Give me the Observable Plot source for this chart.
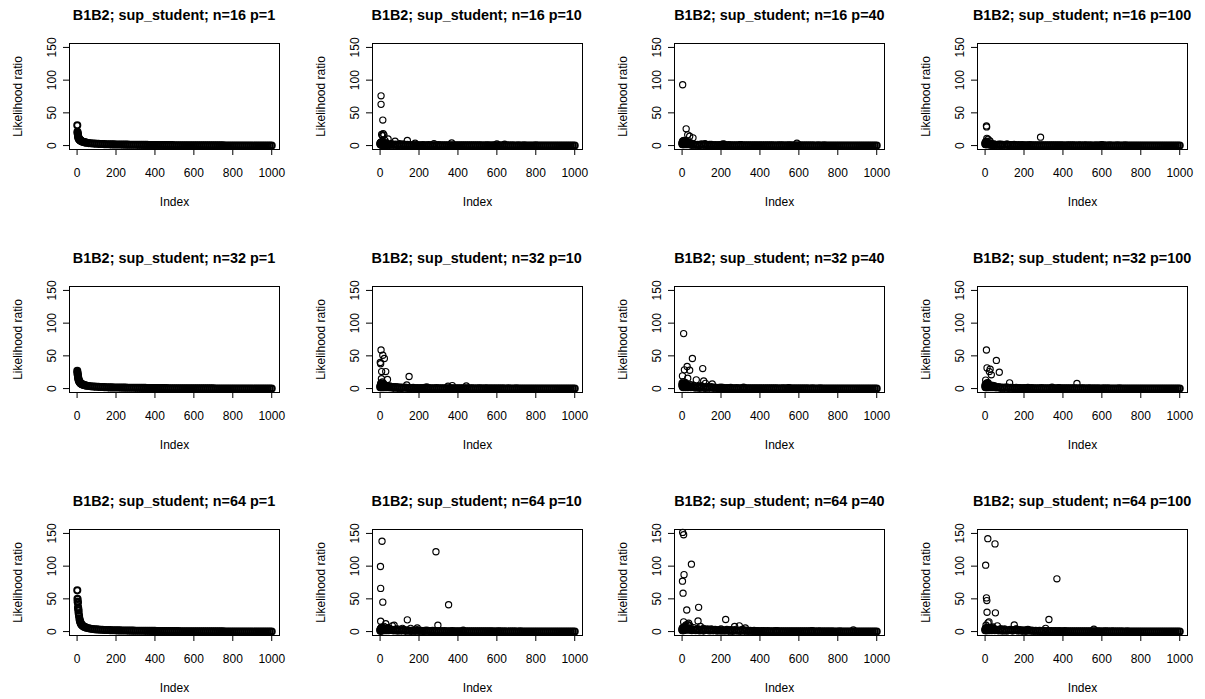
<!DOCTYPE html>
<html>
<head>
<meta charset="utf-8">
<script src="https://cdn.jsdelivr.net/npm/d3@7"></script>
<script src="https://cdn.jsdelivr.net/npm/@observablehq/plot@0.6"></script>
<style>
  html, body { margin: 0; padding: 0; background: #fff; }
  body { width: 1205px; height: 699px; overflow: hidden; position: relative; font-family: "Liberation Sans", Arial, Helvetica, sans-serif; }
  .cell { position: absolute; width: 303px; height: 243px; }
  .title { position: absolute; top: 0; left: 174px; transform: translateX(-50%); height: 30px; line-height: 30px;
           white-space: nowrap; font-weight: bold; font-size: 14.4px; color: #000; }
  .cell svg { position: absolute; top: 30px; left: 0; }
</style>
</head>
<body>
<script>
// ---- chart definitions ----
const nValues = [16, 32, 64];
const pValues = [1, 10, 40, 100];
const titlePrefix = "B1B2; sup_student;";
const xLabel = "Index";
const yLabel = "Likelihood ratio";
const xTicks = [0, 200, 400, 600, 800, 1000];
const yTicks = [0, 50, 100, 150];

// index positions of the dense band of points (read along the x axis)
const bandIndex = [1,2,3,4,5,6,7,8,10,12,14,16,18,20,23,26,30,35,40,45,50,
  60,70,80,90,100,110,120,130,140,150,
  160,170,180,190,200,210,220,230,240,250,
  260,270,280,290,300,310,320,330,340,350,
  360,370,380,390,400,410,420,430,440,450,
  460,470,480,490,500,510,520,530,540,550,
  560,570,580,590,600,610,620,630,640,650,
  660,670,680,690,700,710,720,730,740,750,
  760,770,780,790,800,810,820,830,840,850,
  860,870,880,890,900,910,920,930,940,950,
  960,970,980,990,1000];

// band values (likelihood ratio) at bandIndex, per panel
const band_n16_p1 = [31,21,19,17,15,13.5,12,11,10,9.2,8.6,8,7.6,7.2,6.7,6.3,5.8,5.3,4.9,4.6,4.3,
  3.8,3.5,3.2,3.0,2.8,2.6,2.5,2.3,2.2,2.1,
  2.0,1.9,1.8,1.8,1.7,1.6,1.6,1.5,1.5,1.4,
  1.4,1.3,1.3,1.2,1.2,1.1,1.1,1.1,1.0,1.0,
  1.0,0.9,0.9,0.9,0.9,0.8,0.8,0.8,0.8,0.7,
  0.7,0.7,0.7,0.7,0.6,0.6,0.6,0.6,0.6,0.5,
  0.5,0.5,0.5,0.5,0.5,0.4,0.4,0.4,0.4,0.4,
  0.4,0.4,0.3,0.3,0.3,0.3,0.3,0.3,0.3,0.3,
  0.2,0.2,0.2,0.2,0.2,0.2,0.2,0.2,0.2,0.2,
  0.1,0.1,0.1,0.1,0.1,0.1,0.1,0.1,0.1,0.1,
  0.1,0.1,0.0,0.0,0.0];
const band_n16_p10 = [3,2,4,1.5,3,2,5,1,2,3,1,4,2,1,3,2,1,2,1,2,1,
  1.2,0.8,1.5,0.6,0.9,1.1,0.5,0.7,1.0,0.6,
  0.4,0.8,0.5,0.9,0.3,0.6,0.7,0.4,0.5,0.8,
  0.5,0.3,0.6,0.4,0.7,0.3,0.5,0.4,0.6,0.3,
  0.4,0.5,0.3,0.6,0.4,0.3,0.5,0.4,0.3,0.5,
  0.3,0.4,0.3,0.5,0.3,0.4,0.3,0.2,0.4,0.3,
  0.3,0.2,0.4,0.3,0.2,0.3,0.2,0.4,0.3,0.2,
  0.3,0.2,0.3,0.2,0.2,0.3,0.2,0.2,0.3,0.2,
  0.2,0.2,0.1,0.2,0.3,0.2,0.1,0.2,0.2,0.1,
  0.2,0.1,0.2,0.1,0.2,0.1,0.1,0.2,0.1,0.1,
  0.1,0.2,0.1,0.1,0.1];
const band_n16_p40 = [4,2,3,6,2,5,3,7,2,4,3,5,2,6,3,2,4,2,3,2,1,
  1.5,0.8,1.2,0.6,2.0,0.9,1.1,0.7,0.5,1.3,
  0.6,0.9,0.4,0.7,0.5,1.8,0.6,0.4,0.8,0.5,
  0.3,0.6,0.5,0.4,0.7,0.3,0.5,0.6,0.4,0.3,
  0.5,0.4,0.3,0.6,0.4,0.3,0.5,0.3,0.4,0.3,
  0.4,0.3,0.2,0.4,0.3,0.5,0.3,0.2,0.3,0.4,
  0.3,0.2,0.3,0.2,0.4,0.3,0.2,0.3,0.2,0.3,
  0.2,0.3,0.2,0.2,0.3,0.2,0.2,0.3,0.2,0.2,
  0.2,0.1,0.2,0.2,0.1,0.2,0.2,0.1,0.2,0.1,
  0.1,0.2,0.1,0.1,0.2,0.1,0.1,0.1,0.2,0.1,
  0.1,0.1,0.2,0.1,0.1];
const band_n16_p100 = [3,2,5,4,2,3,6,2,4,3,2,3,2,2,3,2,1,2,1,2,1,
  0.9,1.4,0.6,1.1,0.8,1.6,0.5,0.9,0.7,1.0,
  0.5,0.7,0.4,0.8,0.6,0.3,0.5,0.7,0.4,0.6,
  0.4,0.5,0.3,0.6,0.4,0.5,0.3,0.4,0.5,0.3,
  0.4,0.3,0.5,0.3,0.4,0.2,0.4,0.3,0.5,0.3,
  0.3,0.2,0.4,0.3,0.2,0.3,0.4,0.2,0.3,0.2,
  0.2,0.3,0.2,0.4,0.2,0.3,0.2,0.2,0.3,0.2,
  0.2,0.2,0.3,0.2,0.1,0.2,0.3,0.2,0.2,0.1,
  0.2,0.1,0.2,0.1,0.2,0.2,0.1,0.2,0.1,0.2,
  0.1,0.1,0.2,0.1,0.1,0.2,0.1,0.1,0.1,0.1,
  0.1,0.1,0.1,0.2,0.1];
const band_n32_p1 = [27,24,22,20,18,16,14.5,13,11.5,10.5,9.5,8.8,8.2,7.7,7.1,6.6,6,5.5,5,4.7,4.4,
  3.9,3.5,3.2,3.0,2.8,2.6,2.4,2.3,2.2,2.0,
  1.9,1.8,1.8,1.7,1.6,1.6,1.5,1.5,1.4,1.4,
  1.3,1.3,1.2,1.2,1.1,1.1,1.1,1.0,1.0,1.0,
  0.9,0.9,0.9,0.8,0.8,0.8,0.8,0.7,0.7,0.7,
  0.7,0.6,0.6,0.6,0.6,0.6,0.5,0.5,0.5,0.5,
  0.5,0.4,0.4,0.4,0.4,0.4,0.4,0.3,0.3,0.3,
  0.3,0.3,0.3,0.3,0.3,0.2,0.2,0.2,0.2,0.2,
  0.2,0.2,0.2,0.2,0.2,0.1,0.1,0.1,0.1,0.1,
  0.1,0.1,0.1,0.1,0.1,0.1,0.1,0.1,0.1,0.0,
  0.0,0.0,0.0,0.0,0.0];
const band_n32_p10 = [2,4,3,6,2,8,3,5,4,2,6,3,2,5,3,2,4,2,3,2,2,
  1.8,1.1,2.2,0.9,1.4,0.7,1.2,1.6,0.8,1.0,
  0.7,1.3,0.6,0.9,0.5,0.8,0.6,1.1,0.5,0.7,
  0.5,0.6,0.4,0.8,0.5,0.4,0.6,0.3,0.5,0.4,
  0.6,0.4,0.3,0.5,0.4,0.3,0.5,0.4,0.3,0.4,
  0.3,0.4,0.3,0.2,0.4,0.3,0.3,0.2,0.4,0.3,
  0.2,0.3,0.2,0.3,0.2,0.4,0.2,0.3,0.2,0.2,
  0.3,0.2,0.2,0.1,0.3,0.2,0.2,0.2,0.1,0.2,
  0.2,0.1,0.2,0.2,0.1,0.2,0.1,0.2,0.1,0.1,
  0.1,0.2,0.1,0.1,0.1,0.2,0.1,0.1,0.1,0.1,
  0.1,0.1,0.1,0.1,0.2];
const band_n32_p40 = [5,8,3,6,4,2,7,3,5,4,3,6,2,4,5,3,2,4,3,2,3,
  2.1,1.3,2.6,1.0,3.5,1.2,0.9,1.7,1.1,2.4,
  0.8,1.4,0.7,1.0,0.6,1.2,0.5,0.9,0.7,1.1,
  0.6,0.5,0.8,0.4,0.6,0.5,0.7,0.4,0.5,0.6,
  0.4,0.5,0.3,0.6,0.4,0.3,0.5,0.4,0.3,0.5,
  0.3,0.4,0.3,0.5,0.2,0.4,0.3,0.3,0.2,0.4,
  0.3,0.2,0.3,0.2,0.4,0.2,0.3,0.2,0.3,0.2,
  0.2,0.3,0.2,0.2,0.1,0.3,0.2,0.2,0.2,0.1,
  0.2,0.2,0.1,0.2,0.1,0.2,0.2,0.1,0.1,0.2,
  0.1,0.1,0.2,0.1,0.1,0.1,0.2,0.1,0.1,0.1,
  0.1,0.1,0.1,0.1,0.1];
const band_n32_p100 = [4,2,6,3,5,2,4,3,8,2,5,3,4,2,3,5,2,3,2,3,2,
  1.6,2.3,1.0,1.4,0.8,1.9,0.7,1.2,1.0,0.6,
  1.1,0.7,0.9,0.5,0.8,0.6,1.0,0.4,0.7,0.5,
  0.6,0.4,0.5,0.7,0.3,0.5,0.4,0.6,0.3,0.5,
  0.4,0.3,0.5,0.4,0.3,0.4,0.3,0.5,0.3,0.4,
  0.3,0.4,0.2,0.3,0.4,0.3,0.2,0.3,0.3,0.2,
  0.3,0.2,0.3,0.2,0.2,0.3,0.2,0.3,0.2,0.2,
  0.2,0.1,0.2,0.3,0.2,0.1,0.2,0.2,0.1,0.2,
  0.1,0.2,0.2,0.1,0.2,0.1,0.1,0.2,0.1,0.1,
  0.2,0.1,0.1,0.1,0.2,0.1,0.1,0.1,0.1,0.1,
  0.1,0.1,0.1,0.1,0.1];
const band_n64_p1 = [63,50,46,44,37,35,32,28,24,20,17,15,13.5,12,10.5,9.5,8.5,7.5,6.8,6.2,5.7,
  5.0,4.4,4.0,3.6,3.3,3.1,2.9,2.7,2.5,2.4,
  2.3,2.2,2.1,2.0,1.9,1.8,1.8,1.7,1.6,1.6,
  1.5,1.5,1.4,1.4,1.3,1.3,1.2,1.2,1.2,1.1,
  1.1,1.1,1.0,1.0,1.0,0.9,0.9,0.9,0.9,0.8,
  0.8,0.8,0.8,0.7,0.7,0.7,0.7,0.6,0.6,0.6,
  0.6,0.6,0.5,0.5,0.5,0.5,0.5,0.4,0.4,0.4,
  0.4,0.4,0.4,0.3,0.3,0.3,0.3,0.3,0.3,0.3,
  0.2,0.2,0.2,0.2,0.2,0.2,0.2,0.2,0.1,0.1,
  0.1,0.1,0.1,0.1,0.1,0.1,0.1,0.1,0.1,0.1,
  0.0,0.0,0.0,0.0,0.0];
const band_n64_p10 = [2,3,1,4,2,5,3,2,6,2,3,4,2,3,5,2,3,2,4,2,3,
  2.4,1.6,3.1,1.2,2.0,1.5,2.7,1.1,1.8,1.3,
  1.0,1.6,0.9,2.2,0.8,1.2,0.7,1.0,1.4,0.8,
  0.7,1.1,0.6,0.9,0.5,0.8,0.6,0.7,0.5,0.6,
  0.5,0.7,0.4,0.6,0.5,0.4,0.6,0.4,0.5,0.4,
  0.4,0.3,0.5,0.4,0.3,0.4,0.3,0.5,0.3,0.3,
  0.3,0.4,0.3,0.2,0.4,0.3,0.3,0.2,0.3,0.2,
  0.2,0.3,0.2,0.3,0.2,0.2,0.3,0.2,0.2,0.2,
  0.2,0.1,0.2,0.2,0.1,0.2,0.1,0.2,0.1,0.2,
  0.1,0.2,0.1,0.1,0.2,0.1,0.1,0.1,0.1,0.1,
  0.1,0.1,0.1,0.1,0.1];
const band_n64_p40 = [3,2,5,2,4,3,6,2,5,3,4,6,3,5,4,3,5,3,4,3,2,
  3.2,2.1,4.0,1.8,2.9,1.5,2.4,3.3,1.6,2.2,
  1.9,2.8,1.4,2.5,1.2,2.0,1.3,2.6,1.1,1.7,
  1.0,2.3,1.2,1.6,0.9,2.8,1.1,1.4,0.8,1.2,
  0.8,1.0,0.7,0.9,0.6,0.8,0.7,0.6,0.8,0.5,
  0.6,0.5,0.7,0.4,0.6,0.5,0.4,0.6,0.4,0.5,
  0.4,0.5,0.3,0.4,0.5,0.3,0.4,0.3,0.4,0.3,
  0.3,0.4,0.3,0.2,0.3,0.3,0.2,0.3,0.2,0.3,
  0.2,0.3,0.2,0.2,0.2,0.3,0.2,0.2,0.2,0.1,
  0.2,0.1,0.2,0.2,0.1,0.2,0.1,0.1,0.2,0.1,
  0.1,0.1,0.2,0.1,0.1];
const band_n64_p100 = [2,4,3,2,5,3,2,4,3,6,2,4,5,3,2,4,3,2,5,3,2,
  2.8,1.7,3.4,1.4,2.3,1.2,2.0,2.9,1.5,2.2,
  3.1,1.4,2.4,1.1,1.8,1.0,2.6,1.2,1.5,0.9,
  1.3,0.8,1.1,0.7,1.0,0.6,0.9,0.7,0.8,0.6,
  0.7,0.5,0.8,0.6,0.5,0.7,0.4,0.6,0.5,0.4,
  0.5,0.4,0.6,0.3,0.5,0.4,0.3,0.5,0.4,0.3,
  0.4,0.3,0.4,0.3,0.2,0.4,0.3,0.3,0.2,0.3,
  0.3,0.2,0.3,0.2,0.3,0.2,0.2,0.3,0.2,0.2,
  0.2,0.2,0.1,0.2,0.2,0.1,0.2,0.2,0.1,0.2,
  0.1,0.2,0.1,0.1,0.1,0.2,0.1,0.1,0.1,0.1,
  0.1,0.1,0.1,0.1,0.1];

// scattered points standing above the band: [index, likelihood ratio]
const out_n16_p1 = [[2,20],[3,18]];
const out_n16_p10 = [[5,76],[5,63],[14,39],[8,17],[16,18],[20,16],[12,15],[3,5],[10,6],[25,8],[30,5],[41,10],[77,6.7],[140,7.7],[180,3.6],[277,3],[368,4],[600,2.5],[640,2],[60,3],[100,3],[120,2.5]];
const out_n16_p40 = [[3,93],[21,25.6],[29,16.4],[39,14.3],[56,11.8],[5,6],[10,8],[15,5],[18,7],[25,6],[33,4],[45,4],[118,3],[217,2],[590,3.6],[140,1.8],[300,1.5]];
const out_n16_p100 = [[7,30],[8,28.5],[9,11],[15,9.7],[25,7],[12,5],[4,4],[30,3],[80,2],[115,2],[285,12.8],[600,1.2]];
const out_n32_p1 = [[2,26],[3,23]];
const out_n32_p10 = [[5,59],[1,40],[3,38],[14,51],[22,46],[8,26],[29,26],[38,14],[7,15],[12,10],[18,8],[149,18.4],[137,5.6],[371,4.6],[349,3.5],[443,4],[240,2.5],[50,4],[70,3],[90,2.5],[110,2]];
const out_n32_p40 = [[8,84],[53,46],[26,33.7],[106,30.6],[2,19.4],[12,28.6],[39,28],[29,15.8],[73,13.3],[111,11.7],[155,7],[120,8],[8,10.7],[4,7],[18,9],[45,6],[60,5],[90,4],[130,3],[316,2],[547,1.5],[200,2]];
const out_n32_p100 = [[7,59],[58,43],[10,31.6],[26,29.6],[32,21],[73,25],[3,13],[22,26],[126,8.7],[472,7.7],[344,2],[379,1.5],[5,6],[15,9],[40,5],[50,4],[20,5]];
const out_n64_p1 = [[3,49.5],[4,45],[6,36.7],[8,32.7],[10,24]];
const out_n64_p10 = [[10,138],[2,99.5],[3,66],[14,45],[3,15.8],[287,122],[352,41],[297,9.7],[140,17.9],[29,12],[72,9.7],[63,8.7],[191,5.6],[157,5],[115,5],[427,2],[20,8],[40,6],[50,5],[90,4],[8,6]];
const out_n64_p40 = [[3,151.5],[8,148],[48,103],[10,87],[2,77],[5,58.7],[24,33],[85,37],[82,16.3],[224,18.4],[8,14.8],[34,12.8],[29,11],[94,7.7],[270,7.7],[294,8.7],[325,5.6],[880,2.5],[487,1.5],[667,1.5],[15,8],[20,10],[40,9],[60,6],[110,5],[150,4],[200,4],[250,3]];
const out_n64_p100 = [[14,142],[51,134],[3,101.5],[369,80.6],[7,51.5],[9,47.4],[10,29.6],[53,28.6],[328,18.4],[20,14.8],[15,13.3],[5,9.7],[150,10.2],[63,8.7],[311,5],[559,3.6],[217,2.5],[80,4],[30,6],[100,4],[160,4],[40,7]];

// ---- lookup tables built from the arrays above ----
const bands = {
  n16_p1: band_n16_p1, n16_p10: band_n16_p10, n16_p40: band_n16_p40, n16_p100: band_n16_p100,
  n32_p1: band_n32_p1, n32_p10: band_n32_p10, n32_p40: band_n32_p40, n32_p100: band_n32_p100,
  n64_p1: band_n64_p1, n64_p10: band_n64_p10, n64_p40: band_n64_p40, n64_p100: band_n64_p100
};
const outs = {
  n16_p1: out_n16_p1, n16_p10: out_n16_p10, n16_p40: out_n16_p40, n16_p100: out_n16_p100,
  n32_p1: out_n32_p1, n32_p10: out_n32_p10, n32_p40: out_n32_p40, n32_p100: out_n32_p100,
  n64_p1: out_n64_p1, n64_p10: out_n64_p10, n64_p40: out_n64_p40, n64_p100: out_n64_p100
};

const colW = 302.7, rowH = 243;
const font = '"Liberation Sans", Arial, Helvetica, sans-serif';

nValues.forEach((n, ri) => {
  pValues.forEach((p, ci) => {
    const key = `n${n}_p${p}`;
    const band = bands[key];
    const len = Math.min(band.length, bandIndex.length);
    const bandPts = [];
    for (let i = 0; i < len; i++) bandPts.push({index: bandIndex[i], value: band[i]});
    const outPts = outs[key].map(([i, v]) => ({index: i, value: v}));

    const cell = document.createElement("div");
    cell.className = "cell";
    cell.style.left = (ci * colW) + "px";
    cell.style.top = (ri * rowH) + "px";
    const title = document.createElement("div");
    title.className = "title";
    title.textContent = `${titlePrefix} n=${n} p=${p}`;
    cell.appendChild(title);

    const chart = Plot.plot({
      width: 303,
      height: 213,
      marginLeft: 69,
      marginRight: 24,
      marginTop: 13,
      marginBottom: 94,
      x: {domain: [-38.96, 1039.96]},
      y: {domain: [-6, 156]},
      style: {fontFamily: font, fontSize: "12px", background: "transparent", color: "black", overflow: "visible"},
      marks: [
        // the dense run of ~1000 overlapping circles reads as a solid black band
        Plot.dot(bandPts, {x: "index", y: "value", r: 3.1, stroke: "black", strokeWidth: 1.9, fill: "none"}),
        Plot.dot(outPts, {x: "index", y: "value", r: 3.1, stroke: "black", strokeWidth: 1.15, fill: "none"}),
        Plot.frame({stroke: "black", strokeWidth: 1}),
        Plot.axisX(xTicks, {anchor: "bottom", tickSize: 6, tickPadding: 13, label: null, fontSize: 12,
          tickFormat: d => String(d)}),
        Plot.axisY(yTicks, {anchor: "left", tickSize: 6, tickFormat: () => "", label: null}),
        Plot.text(yTicks, {y: d => d, frameAnchor: "left", dx: -17, rotate: -90, text: d => String(d),
          textAnchor: "middle", lineAnchor: "middle", fontSize: 12}),
        Plot.text([yLabel], {frameAnchor: "left", dx: -51, rotate: -90, text: d => d,
          textAnchor: "middle", lineAnchor: "middle", fontSize: 12}),
        Plot.text([xLabel], {frameAnchor: "bottom", dy: 53, text: d => d,
          textAnchor: "middle", lineAnchor: "middle", fontSize: 12})
      ]
    });
    cell.appendChild(chart);
    document.body.appendChild(cell);
  });
});
</script>
</body>
</html>
